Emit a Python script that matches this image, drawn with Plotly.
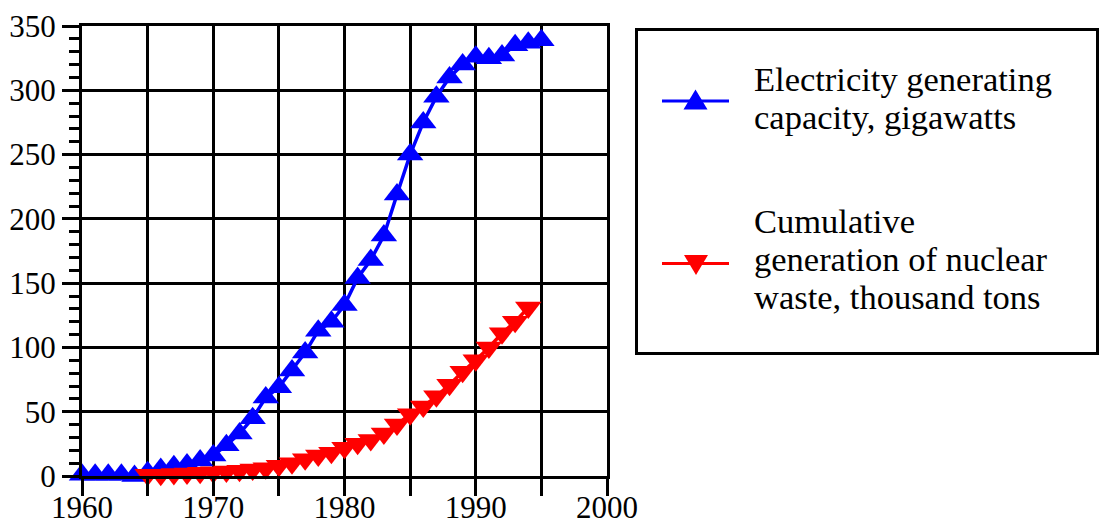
import plotly.graph_objects as go

# ---- data ----
years_capacity = list(range(1960, 1996))
capacity_gw = [1, 1, 1, 1, 0, 3, 5.5, 7.5, 9, 12,
               16, 24, 33, 45, 61, 69, 82, 96, 113, 120,
               133, 154, 168, 187, 219, 250, 275, 295, 310, 320,
               326, 325, 327, 335, 337, 339]

years_waste = list(range(1965, 1995))
waste_kt = [1, 1, 1.5, 2, 2.5, 3, 3.5, 4, 5, 6,
            8, 10, 13, 16, 18, 22, 25, 28, 33, 40,
            48, 54, 62, 71, 81, 90, 100, 111, 120, 131]

label_capacity = ["Electricity generating", "capacity, gigawatts"]
label_waste = ["Cumulative", "generation of nuclear", "waste, thousand tons"]

x_tickvals = list(range(1960, 2001, 5))
x_ticktext = ["1960", "", "1970", "", "1980", "", "1990", "", "2000"]
y_tickvals = [0, 50, 100, 150, 200, 250, 300, 350]

BLUE = "#0000FF"
RED = "#FF0000"
FONT = "Liberation Serif"

W, H = 1099, 527
PLOT_L, PLOT_R, PLOT_T, PLOT_B = 82, 607, 26, 476   # window pixels
L, T = PLOT_L, PLOT_T
R, B = W - PLOT_R, H - PLOT_B


def px_x(px):
    return (px - PLOT_L) / (PLOT_R - PLOT_L)


def px_y(py):
    return (PLOT_B - py) / (PLOT_B - PLOT_T)


fig = go.Figure()
fig.add_trace(go.Scatter(
    x=years_capacity, y=capacity_gw, mode="lines+markers",
    name=" ".join(label_capacity),
    line=dict(color=BLUE, width=3.5),
    marker=dict(symbol="triangle-up", size=23, color=BLUE, line=dict(width=0)),
    cliponaxis=False, showlegend=False))
fig.add_trace(go.Scatter(
    x=years_waste, y=waste_kt, mode="lines+markers",
    name=" ".join(label_waste),
    line=dict(color=RED, width=3.5),
    marker=dict(symbol="triangle-down", size=23, color=RED, line=dict(width=0)),
    cliponaxis=False, showlegend=False))

axis_common = dict(
    showgrid=True, gridcolor="black", gridwidth=3,
    showline=True, linecolor="black", linewidth=3, mirror=True,
    ticks="outside", ticklen=17, tickwidth=3, tickcolor="black",
    tickfont=dict(family=FONT, size=31, color="black"),
    zeroline=False, automargin=False,
)

fig.update_xaxes(range=[1960, 2000], tickmode="array",
                 tickvals=x_tickvals, ticktext=x_ticktext,
                 ticklabelstandoff=-15, **axis_common)
fig.update_yaxes(range=[0, 350], tickmode="array", tickvals=y_tickvals,
                 minor=dict(dtick=10, ticklen=10, tickwidth=3,
                            tickcolor="black", ticks="outside", showgrid=False),
                 **axis_common)

# ---- custom legend ----
shapes = []
shapes.append(dict(type="rect", xref="paper", yref="paper",
                   x0=px_x(636.5), x1=px_x(1097.5), y0=px_y(353.5), y1=px_y(29.5),
                   line=dict(color="black", width=3), fillcolor="rgba(0,0,0,0)"))
for ly, col in [(101, BLUE), (263.5, RED)]:
    shapes.append(dict(type="line", xref="paper", yref="paper",
                       x0=px_x(662), x1=px_x(729), y0=px_y(ly), y1=px_y(ly),
                       line=dict(color=col, width=3)))
# up triangle
shapes.append(dict(type="path", xref="paper", yref="paper",
                   path="M {} {} L {} {} L {} {} Z".format(
                       px_x(683.5), px_y(109.5), px_x(707.5), px_y(109.5),
                       px_x(695.5), px_y(89.5)),
                   fillcolor=BLUE, line=dict(width=0)))
# down triangle
shapes.append(dict(type="path", xref="paper", yref="paper",
                   path="M {} {} L {} {} L {} {} Z".format(
                       px_x(684), px_y(255), px_x(708), px_y(255),
                       px_x(696), px_y(275)),
                   fillcolor=RED, line=dict(width=0)))

annotations = []
baselines = [89.5, 127.5, 232, 270, 308]
for txt, bl in zip(label_capacity + label_waste, baselines):
    annotations.append(dict(xref="paper", yref="paper", x=px_x(752), y=px_y(bl - 11),
                            xanchor="left", yanchor="middle", showarrow=False,
                            text=txt, font=dict(family=FONT, size=34.5, color="black")))

fig.update_layout(
    width=W, height=H,
    margin=dict(l=L, r=R, t=T, b=B, pad=0, autoexpand=False),
    paper_bgcolor="white", plot_bgcolor="white",
    shapes=shapes, annotations=annotations,
    showlegend=False,
)

fig.write_html(
    "out.html",
    config={"displayModeBar": False},
    post_script="document.body.style.margin='0';"
                "document.body.style.overflow='hidden';",
)
